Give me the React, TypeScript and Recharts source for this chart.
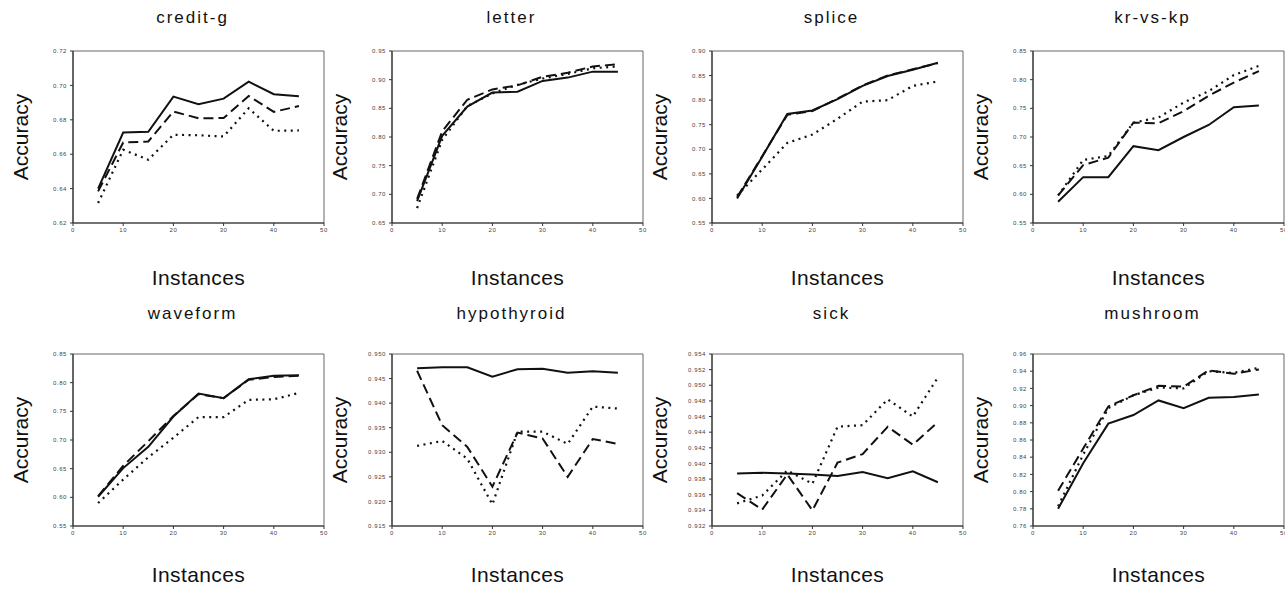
import { LineChart, Line, XAxis, YAxis, ReferenceArea } from "recharts";

// x positions (number of instances) shared by every panel
const INSTANCES = [5, 10, 15, 20, 25, 30, 35, 40, 45];
const X_TICKS = [0, 10, 20, 30, 40, 50];

const creditSolid = [0.64, 0.6726, 0.673, 0.6935, 0.689, 0.6923, 0.7022, 0.6949, 0.6937];
const creditDashed = [0.6384, 0.6668, 0.6674, 0.6848, 0.6809, 0.681, 0.6939, 0.6846, 0.688];
const creditDotted = [0.6316, 0.6626, 0.6568, 0.6713, 0.671, 0.6703, 0.6867, 0.6736, 0.6738];
const creditTicks = [0.62, 0.64, 0.66, 0.68, 0.7, 0.72];

const letterSolid = [0.688, 0.802, 0.853, 0.8775, 0.879, 0.8978, 0.9036, 0.914, 0.914];
const letterDashed = [0.692, 0.81, 0.865, 0.883, 0.89, 0.905, 0.912, 0.923, 0.927];
const letterDotted = [0.676, 0.795, 0.854, 0.876, 0.891, 0.902, 0.91, 0.92, 0.923];
const letterTicks = [0.65, 0.7, 0.75, 0.8, 0.85, 0.9, 0.95];

const spliceSolid = [0.6, 0.685, 0.772, 0.779, 0.802, 0.829, 0.849, 0.862, 0.876];
const spliceDashed = [0.603, 0.686, 0.77, 0.778, 0.803, 0.83, 0.85, 0.863, 0.875];
const spliceDotted = [0.606, 0.659, 0.713, 0.73, 0.762, 0.797, 0.8, 0.829, 0.838];
const spliceTicks = [0.55, 0.6, 0.65, 0.7, 0.75, 0.8, 0.85, 0.9];

const krSolid = [0.587, 0.63, 0.63, 0.684, 0.677, 0.7, 0.721, 0.752, 0.755];
const krDashed = [0.598, 0.651, 0.664, 0.725, 0.724, 0.745, 0.772, 0.795, 0.815];
const krDotted = [0.598, 0.66, 0.667, 0.725, 0.734, 0.76, 0.78, 0.808, 0.824];
const krTicks = [0.55, 0.6, 0.65, 0.7, 0.75, 0.8, 0.85];

const waveSolid = [0.601, 0.651, 0.688, 0.741, 0.781, 0.773, 0.806, 0.812, 0.813];
const waveDashed = [0.602, 0.655, 0.698, 0.742, 0.78, 0.773, 0.805, 0.81, 0.812];
const waveDotted = [0.59, 0.631, 0.67, 0.704, 0.74, 0.74, 0.77, 0.771, 0.782];
const waveTicks = [0.55, 0.6, 0.65, 0.7, 0.75, 0.8, 0.85];

const hypoSolid = [0.9471, 0.9473, 0.9473, 0.9454, 0.9469, 0.947, 0.9462, 0.9465, 0.9462];
const hypoDashed = [0.9466, 0.9355, 0.9311, 0.923, 0.934, 0.9328, 0.925, 0.9327, 0.9317];
const hypoDotted = [0.9313, 0.9323, 0.9287, 0.9194, 0.9342, 0.9342, 0.9317, 0.9393, 0.9389];
const hypoTicks = [0.915, 0.92, 0.925, 0.93, 0.935, 0.94, 0.945, 0.95];

const sickSolid = [0.9387, 0.9388, 0.9387, 0.9386, 0.9384, 0.9389, 0.9381, 0.939, 0.9376];
const sickDashed = [0.9362, 0.9341, 0.9386, 0.934, 0.9401, 0.9412, 0.9447, 0.9424, 0.9453];
const sickDotted = [0.9349, 0.9359, 0.9391, 0.9374, 0.9447, 0.9449, 0.9482, 0.946, 0.951];
const sickTicks = [0.932, 0.934, 0.936, 0.938, 0.94, 0.942, 0.944, 0.946, 0.948, 0.95, 0.952, 0.954];

const mushSolid = [0.78, 0.833, 0.879, 0.889, 0.906, 0.897, 0.909, 0.91, 0.913];
const mushDashed = [0.801, 0.85, 0.899, 0.912, 0.923, 0.922, 0.941, 0.937, 0.942];
const mushDotted = [0.783, 0.843, 0.897, 0.912, 0.921, 0.92, 0.94, 0.938, 0.944];
const mushTicks = [0.76, 0.78, 0.8, 0.82, 0.84, 0.86, 0.88, 0.9, 0.92, 0.94, 0.96];

type Panel = {
  title: string;
  ticks: number[];
  decimals: number;
  solid: number[];
  dashed: number[];
  dotted: number[];
};

const PANELS: Panel[] = [
  { title: "credit-g", ticks: creditTicks, decimals: 2, solid: creditSolid, dashed: creditDashed, dotted: creditDotted },
  { title: "letter", ticks: letterTicks, decimals: 2, solid: letterSolid, dashed: letterDashed, dotted: letterDotted },
  { title: "splice", ticks: spliceTicks, decimals: 2, solid: spliceSolid, dashed: spliceDashed, dotted: spliceDotted },
  { title: "kr-vs-kp", ticks: krTicks, decimals: 2, solid: krSolid, dashed: krDashed, dotted: krDotted },
  { title: "waveform", ticks: waveTicks, decimals: 2, solid: waveSolid, dashed: waveDashed, dotted: waveDotted },
  { title: "hypothyroid", ticks: hypoTicks, decimals: 3, solid: hypoSolid, dashed: hypoDashed, dotted: hypoDotted },
  { title: "sick", ticks: sickTicks, decimals: 3, solid: sickSolid, dashed: sickDashed, dotted: sickDotted },
  { title: "mushroom", ticks: mushTicks, decimals: 2, solid: mushSolid, dashed: mushDashed, dotted: mushDotted },
];

const FONT = '"Liberation Sans", Arial, sans-serif';
const COL_LEFT = [73, 392, 712, 1033];
const ROW_TOP = [51, 354];
// vertical centres of the title and of the x label, per row
const TITLE_MID = [18, 314];
const XLABEL_MID = [278, 575];
const PLOT_W = 251;
const PLOT_H = 172;
const Y_AXIS_W = 34;
const X_AXIS_H = 16;
const M = { top: 6, right: 6, left: 0, bottom: 0 };

const tickStyle = { fontSize: 6, fill: "#444", fontFamily: FONT, letterSpacing: 0.6 };

function SmallChart({ panel, col, row }: { panel: Panel; col: number; row: number }) {
  const data = INSTANCES.map((x, i) => ({
    x,
    solid: panel.solid[i],
    dashed: panel.dashed[i],
    dotted: panel.dotted[i],
  }));
  const left = COL_LEFT[col];
  const top = ROW_TOP[row];
  const lo = panel.ticks[0];
  const hi = panel.ticks[panel.ticks.length - 1];
  const cx = left + PLOT_W / 2;
  const cy = top + PLOT_H / 2;
  return (
    <>
      <div
        style={{
          position: "absolute",
          left: cx - 106,
          top: TITLE_MID[row] - 10,
          width: 200,
          textAlign: "center",
          fontFamily: FONT,
          fontSize: 17,
          lineHeight: "20px",
          letterSpacing: 2,
          color: "#111",
        }}
      >
        {panel.title}
      </div>
      <div
        style={{
          position: "absolute",
          left: left - 52,
          top: cy,
          transform: "translate(-50%, -50%) rotate(-90deg)",
          fontFamily: FONT,
          fontSize: 21,
          lineHeight: "24px",
          whiteSpace: "nowrap",
          color: "#111",
        }}
      >
        Accuracy
      </div>
      <div
        style={{
          position: "absolute",
          left: cx - 100,
          top: XLABEL_MID[row] - 12,
          width: 200,
          textAlign: "center",
          fontFamily: FONT,
          fontSize: 21,
          lineHeight: "24px",
          letterSpacing: 0.4,
          color: "#111",
        }}
      >
        Instances
      </div>
      <div style={{ position: "absolute", left: left - Y_AXIS_W, top: top - M.top }}>
        <LineChart
          width={Y_AXIS_W + PLOT_W + M.right}
          height={M.top + PLOT_H + X_AXIS_H}
          data={data}
          margin={M}
        >
          <XAxis
            dataKey="x"
            type="number"
            domain={[0, 50]}
            ticks={X_TICKS}
            height={X_AXIS_H}
            tickSize={3}
            tickMargin={2}
            tick={tickStyle}
            axisLine={{ stroke: "#333", strokeWidth: 1.2 }}
            tickLine={{ stroke: "#333" }}
          />
          <YAxis
            type="number"
            domain={[lo, hi]}
            ticks={panel.ticks}
            width={Y_AXIS_W}
            tickSize={3}
            tickMargin={3}
            tick={tickStyle}
            tickFormatter={(v: number) => v.toFixed(panel.decimals)}
            axisLine={{ stroke: "#333", strokeWidth: 1.2 }}
            tickLine={{ stroke: "#333" }}
            allowDataOverflow
          />
          <ReferenceArea x1={0} x2={50} y1={lo} y2={hi} fill="none" stroke="#666" strokeWidth={1} />
          <Line
            dataKey="dotted"
            type="linear"
            stroke="#111"
            strokeWidth={2.2}
            strokeDasharray="2 4.5"
            dot={false}
            isAnimationActive={false}
          />
          <Line
            dataKey="dashed"
            type="linear"
            stroke="#111"
            strokeWidth={2}
            strokeDasharray="10 5"
            dot={false}
            isAnimationActive={false}
          />
          <Line
            dataKey="solid"
            type="linear"
            stroke="#111"
            strokeWidth={2}
            dot={false}
            isAnimationActive={false}
          />
        </LineChart>
      </div>
    </>
  );
}

export default function App() {
  return (
    <div
      style={{
        position: "absolute",
        left: 0,
        top: 0,
        width: 1285,
        height: 592,
        overflow: "hidden",
        background: "#fff",
      }}
    >
      {PANELS.map((p, i) => (
        <SmallChart key={p.title} panel={p} col={i % 4} row={Math.floor(i / 4)} />
      ))}
    </div>
  );
}
